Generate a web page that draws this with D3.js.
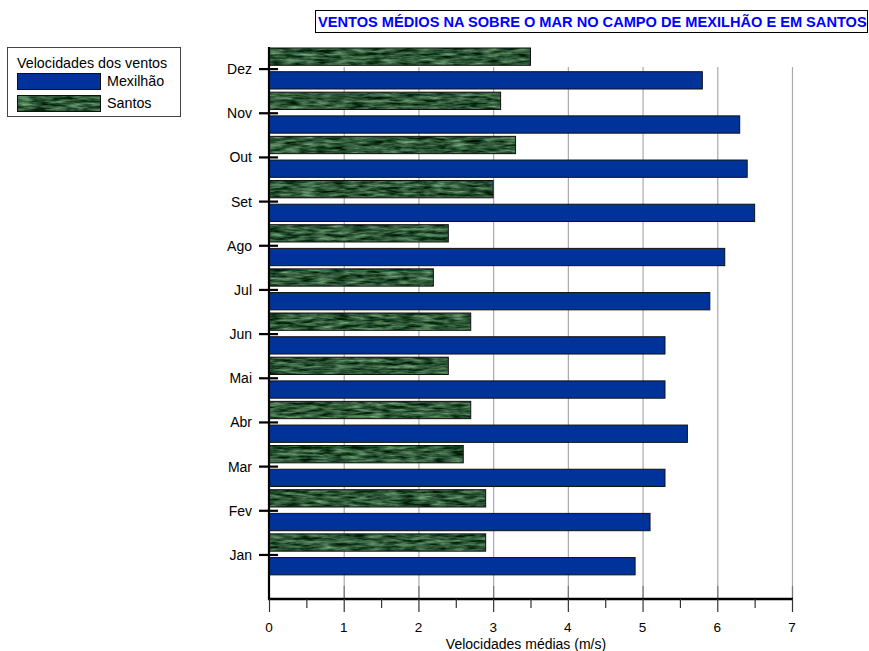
<!DOCTYPE html>
<html><head><meta charset="utf-8">
<script src="https://cdn.jsdelivr.net/npm/d3@7"></script>
<style>body{margin:0;background:#fff}svg{display:block;font-family:"Liberation Sans",Arial,sans-serif}</style>
</head><body><svg id="c" width="869" height="651"></svg>
<script>
const months = ["Jan","Fev","Mar","Abr","Mai","Jun","Jul","Ago","Set","Out","Nov","Dez"];
const seriesNames = ["Santos","Mexilhão"];
const santos = [2.9,2.9,2.6,2.7,2.4,2.7,2.2,2.4,3.0,3.3,3.1,3.5];
const mexilhao = [4.9,5.1,5.3,5.6,5.3,5.3,5.9,6.1,6.5,6.4,6.3,5.8];
const xTicks = [0,1,2,3,4,5,6,7];
const xMinor = [0.5,1.5,2.5,3.5,4.5,5.5,6.5];
const title = "VENTOS MÉDIOS NA SOBRE O MAR NO CAMPO DE MEXILHÃO E EM SANTOS";
const legendTitle = "Velocidades dos ventos";
const xLabel = "Velocidades médias (m/s)";

const svg = d3.select("#c");
const defs = svg.append("defs");
const f = defs.append("filter").attr("id","marble").attr("filterUnits","userSpaceOnUse")
  .attr("x",0).attr("y",0).attr("width",869).attr("height",651)
  .attr("color-interpolation-filters","sRGB");
f.append("feTurbulence").attr("type","fractalNoise").attr("baseFrequency","0.06 0.32").attr("numOctaves",3).attr("seed",11).attr("result","n");
f.append("feColorMatrix").attr("in","n").attr("type","matrix")
  .attr("values","0.75 0 0 0 -0.19  0.85 0 0 0 -0.08  0.72 0 0 0 -0.14  0 0 0 0 1");
const pat = defs.append("pattern").attr("id","green").attr("patternUnits","userSpaceOnUse")
  .attr("width",869).attr("height",651);
pat.append("rect").attr("width",869).attr("height",651).attr("fill","#2f5e3a").attr("filter","url(#marble)");

const x0 = 269, x1 = 792, yBottom = 599, gridTop = 67;
const x = d3.scaleLinear().domain([0,7]).range([x0,x1]);
const y = d3.scaleBand().domain(months.slice().reverse()).range([47, 47+12*44.17]);
const yi = d3.scaleBand().domain(seriesNames).range([1,42]).paddingInner(0.27);

// grid
svg.append("g").selectAll("line").data(xTicks.slice(1)).join("line")
  .attr("x1",d=>x(d)+0.5).attr("x2",d=>x(d)+0.5).attr("y1",gridTop).attr("y2",yBottom)
  .attr("stroke","#aaa").attr("stroke-width",1.2);
svg.append("g").selectAll("line").data(xTicks.slice(1)).join("line")
  .attr("x1",d=>x(d)+0.5).attr("x2",d=>x(d)+0.5).attr("y1",586).attr("y2",yBottom)
  .attr("stroke","#777").attr("stroke-width",1.2);

// bars
const data = months.map((m,i)=>({m, s:santos[i], x:mexilhao[i]}));
const g = svg.append("g");
g.selectAll(".s").data(data).join("rect").attr("class","s")
  .attr("x",x(0)).attr("y",d=>y(d.m)+yi("Santos")).attr("height",yi.bandwidth())
  .attr("width",d=>x(d.s)-x(0)).attr("fill","url(#green)").attr("stroke","#111").attr("stroke-width",1);
g.selectAll(".m").data(data).join("rect").attr("class","m")
  .attr("x",x(0)).attr("y",d=>y(d.m)+yi("Mexilhão")).attr("height",yi.bandwidth())
  .attr("width",d=>x(d.x)-x(0)).attr("fill","#003399").attr("stroke","#111").attr("stroke-width",1);

// axes
svg.append("line").attr("x1",x0).attr("x2",x0).attr("y1",47).attr("y2",yBottom+1).attr("stroke","#000").attr("stroke-width",2.2);
svg.append("line").attr("x1",x0-1).attr("x2",x1+1).attr("y1",yBottom).attr("y2",yBottom).attr("stroke","#000").attr("stroke-width",2.4);
svg.append("g").selectAll("line").data(xTicks).join("line")
  .attr("x1",d=>x(d)+0.5).attr("x2",d=>x(d)+0.5).attr("y1",yBottom).attr("y2",612).attr("stroke","#333").attr("stroke-width",1.2);
svg.append("g").selectAll("line").data(xMinor).join("line")
  .attr("x1",d=>x(d)+0.5).attr("x2",d=>x(d)+0.5).attr("y1",yBottom).attr("y2",608).attr("stroke","#333").attr("stroke-width",1.2);
svg.append("g").selectAll("text").data(xTicks).join("text")
  .attr("x",d=>x(d)).attr("y",632).attr("text-anchor","middle").attr("font-size",13.5).text(d=>d);
svg.append("text").attr("x",526).attr("y",648.5).attr("text-anchor","middle").attr("font-size",14).text(xLabel);

// y ticks
svg.append("g").selectAll("line").data(months).join("line")
  .attr("x1",259).attr("x2",278).attr("y1",d=>y(d)+y.bandwidth()/2).attr("y2",d=>y(d)+y.bandwidth()/2)
  .attr("stroke","#000").attr("stroke-width",2.2);
svg.append("g").selectAll("text").data(months).join("text")
  .attr("x",252).attr("y",d=>y(d)+y.bandwidth()/2+5).attr("text-anchor","end").attr("font-size",14).text(d=>d);

// title
svg.append("rect").attr("x",315.5).attr("y",10.5).attr("width",552).attr("height",22).attr("fill","#fff").attr("stroke","#000").attr("stroke-width",1);
svg.append("text").attr("x",318).attr("y",26.5).attr("font-size",14.6).attr("font-weight","bold").attr("fill","#0000ff").text(title);

// legend
svg.append("rect").attr("x",7.5).attr("y",47.5).attr("width",173).attr("height",69).attr("fill","#fff").attr("stroke","#444").attr("stroke-width",1);
svg.append("text").attr("x",17).attr("y",68).attr("font-size",14.3).text(legendTitle);
const leg = [{n:"Mexilhão",f:"#003399",y:73},{n:"Santos",f:"url(#green)",y:95}];
svg.append("g").selectAll("rect").data(leg).join("rect").attr("x",17.5).attr("y",d=>d.y+0.5).attr("width",83).attr("height",16)
  .attr("fill",d=>d.f).attr("stroke","#111");
svg.append("g").selectAll("text").data(leg).join("text").attr("x",107).attr("y",d=>d.y+13).attr("font-size",14.3).text(d=>d.n);
</script></body></html>
